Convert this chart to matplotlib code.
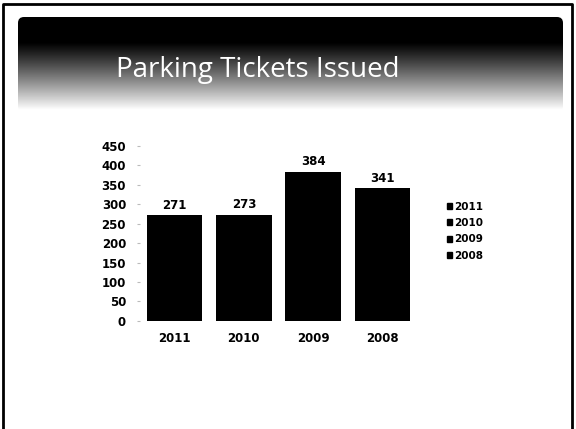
import numpy as np
import matplotlib
matplotlib.use('Agg')
import matplotlib.pyplot as plt
from matplotlib.patches import FancyBboxPatch, Rectangle

# chart data
years = ['2011', '2010', '2009', '2008']
tickets = [271, 273, 384, 341]
yticks = [0, 50, 100, 150, 200, 250, 300, 350, 400, 450]
title = 'Parking Tickets Issued'

fig = plt.figure(figsize=(5.76, 4.29), dpi=100)
W, H = 576, 429

# slide frame (bottom edge open, as in the scan)
frame = fig.add_axes([0, 0, 1, 1])
frame.set_xlim(0, W)
frame.set_ylim(H, 0)
frame.axis('off')
frame.plot([3, 3, 572, 572], [H, 4, 4, H], color='black', linewidth=2)

# header band: black at top fading to white
rows = np.linspace(17, 110, 200)
grad = np.clip((rows - 42) / (110 - 42), 0, 1) ** 1.1
img = np.tile(grad[:, None], (1, 10))
im = frame.imshow(img, cmap='gray', vmin=0, vmax=1, aspect='auto',
                  extent=[18, 563, 110, 17], zorder=1)
clip = FancyBboxPatch((18, 17), 545, 95, boxstyle='round,pad=0,rounding_size=6',
                      transform=frame.transData, facecolor='none', edgecolor='none')
frame.add_patch(clip)
im.set_clip_path(clip)
frame.text(258, 70, title, color='white', fontsize=20, family='Open Sans',
           ha='center', va='center', zorder=3)

# bar chart
ax = fig.add_axes([0.243, 0.252, 0.481, 0.408])
x = np.arange(len(years))
ax.bar(x, tickets, width=0.8, color='black')
for xi, v in zip(x, tickets):
    ax.text(xi, v + 9, str(v), ha='center', va='bottom', fontsize=8.5, fontweight='bold')
ax.set_xlim(-0.5, len(years) - 0.5)
ax.set_ylim(0, 450)
ax.set_yticks(yticks)
ax.set_yticklabels([str(t) for t in yticks], fontsize=8.5, fontweight='bold')
ax.set_xticks(x)
ax.set_xticklabels(years, fontsize=8.5, fontweight='bold')
ax.tick_params(axis='x', length=0, pad=8)
ax.tick_params(axis='y', length=2, pad=8, color='#bbbbbb')
for s in ax.spines.values():
    s.set_visible(False)

# legend
handles = [Rectangle((0, 0), 1, 1, color='black') for _ in years]
fig.legend(handles, years, loc='center left', bbox_to_anchor=(0.76, 0.461),
           frameon=False, prop={'size': 7.5, 'weight': 'bold'},
           handlelength=0.5, handleheight=0.5, handletextpad=0.2,
           labelspacing=0.6)

fig.savefig('out.png', dpi=100)
